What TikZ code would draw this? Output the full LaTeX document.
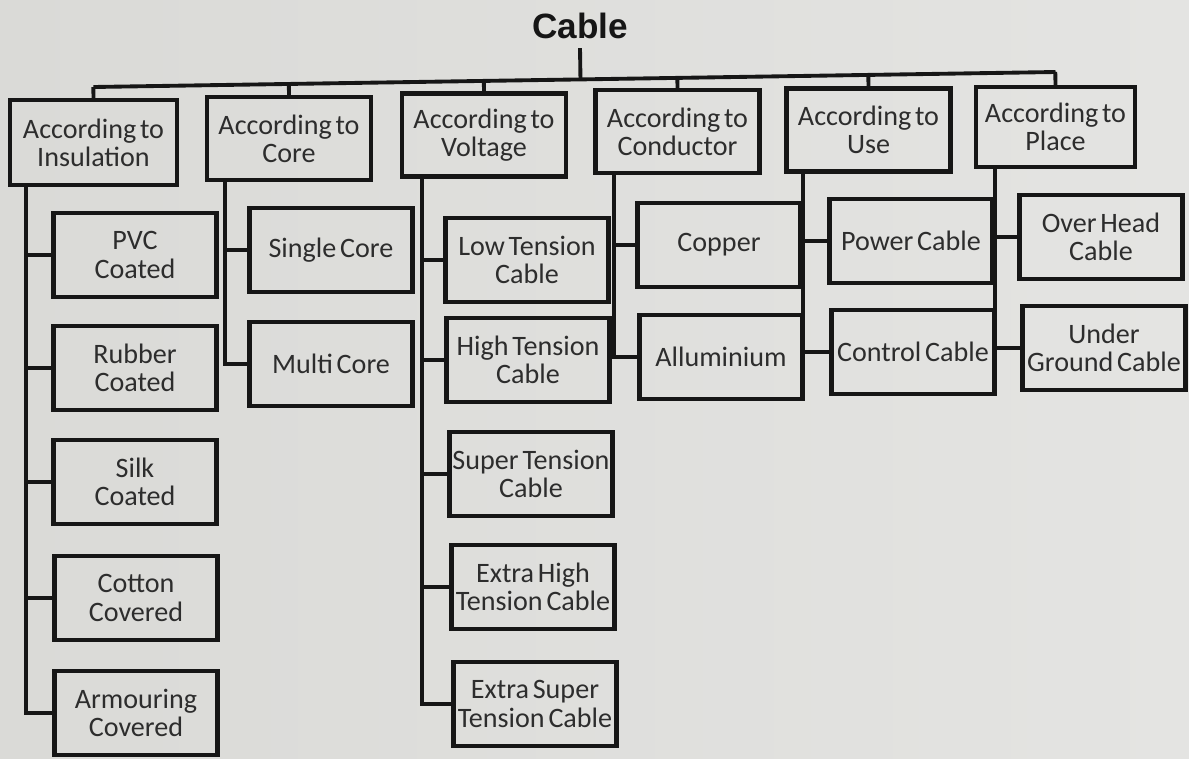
\documentclass[tikz,border=0pt]{standalone}
\usepackage{fontspec}
\setmainfont{Carlito}[WordSpace=0.6]
\newfontfamily\titlefont{Liberation Sans}
\usetikzlibrary{calc}

\definecolor{paper}{RGB}{218,218,215}
\definecolor{paperlight}{RGB}{228,228,226}
\definecolor{ink}{RGB}{22,22,22}

\begin{document}
\begin{tikzpicture}[x=0.02cm, y=-0.02cm,
    box/.style={draw=ink, line width=2.4pt, inner sep=0pt, align=center,
      text=ink!90, font=\fontsize{16}{16}\selectfont},
    head/.style={box, minimum width=3.28cm, minimum height=1.66cm},
    leaf/.style={box, minimum width=3.26cm, minimum height=1.68cm},
    link/.style={draw=ink, line width=2.2pt},
    title/.style={inner sep=5pt, text=ink, font=\titlefont\bfseries\fontsize{20}{22}\selectfont}]
      % 0. paper
      \shade[left color=paper, right color=paperlight] (0,0) rectangle (1189,758);
      \useasboundingbox (0,0) rectangle (1189,758);

      % 1. title and the six ways to sort a cable
      \node[title] (cable) at (580,26) {Cable};
      \node[head, minimum width=3.34cm, minimum height=1.7cm] (ins) at (93.5,142.5) {According to\\Insulation};
      \node[head] (core) at (289,138.5) {According to\\Core};
      \node[head] (volt) at (484,135) {According to\\Voltage};
      \node[head] (cond) at (677.5,131.5) {According to\\Conductor};
      \node[head] (use) at (868.5,130) {According to\\Use};
      \node[head, minimum width=3.18cm, minimum height=1.6cm] (place) at (1055.5,127) {According to\\Place};

      % 2. the bus (the photo is a little tilted)
      \coordinate (bus_l) at (93.5,87);
      \coordinate (bus_r) at (1055.5,72);
      \draw[link] (bus_l) -- (bus_r);
      \draw[link] (cable.south) -- ($(bus_l)!(cable.south)!(bus_r)$);
      \foreach \h in {ins,core,volt,cond,use,place}
        \draw[link] (\h.north) -- ($(bus_l)!(\h.north)!(bus_r)$);

      % 3. the kinds under each heading
      \node[leaf] (pvc) at (135,255) {PVC\\Coated};
      \node[leaf] (rub) at (135,368) {Rubber\\Coated};
      \node[leaf] (silk) at (135,482) {Silk\\Coated};
      \node[leaf] (cot) at (136,598) {Cotton\\Covered};
      \node[leaf] (arm) at (136,713) {Armouring\\Covered};

      \node[leaf] (single) at (331,250) {Single Core};
      \node[leaf] (multi) at (331,364) {Multi Core};

      \node[leaf] (low) at (527,260) {Low Tension\\Cable};
      \node[leaf] (high) at (528,360) {High Tension\\Cable};
      \node[leaf] (super) at (531,474) {Super Tension\\Cable};
      \node[leaf] (xhigh) at (533,587) {Extra High\\Tension Cable};
      \node[leaf] (xsuper) at (535,704) {Extra Super\\Tension Cable};

      \node[leaf] (copper) at (719,245) {Copper};
      \node[leaf] (alu) at (721,357) {Alluminium};

      \node[leaf] (power) at (911,241) {Power Cable};
      \node[leaf] (control) at (913,352) {Control Cable};

      \node[leaf] (over) at (1101,237) {Over Head\\Cable};
      \node[leaf] (under) at (1104,348) {Under\\Ground Cable};

      % 4. branch lines, down from the heading and across to each kind
      \foreach \k in {pvc,rub,silk,cot,arm}
        \draw[link] ($(ins.south west)+(18,0)$) |- (\k.west);
      \foreach \k in {single,multi}
        \draw[link] ($(core.south west)+(20,0)$) |- (\k.west);
      \foreach \k in {low,high,super,xhigh,xsuper}
        \draw[link] ($(volt.south west)+(22,0)$) |- (\k.west);
      \foreach \k in {copper,alu}
        \draw[link] ($(cond.south west)+(21,0)$) |- (\k.west);
      \foreach \k in {power,control}
        \draw[link] ($(use.south west)+(19,0)$) |- (\k.west);
      \foreach \k in {over,under}
        \draw[link] ($(place.south west)+(21,0)$) |- (\k.west);
\end{tikzpicture}
\end{document}
